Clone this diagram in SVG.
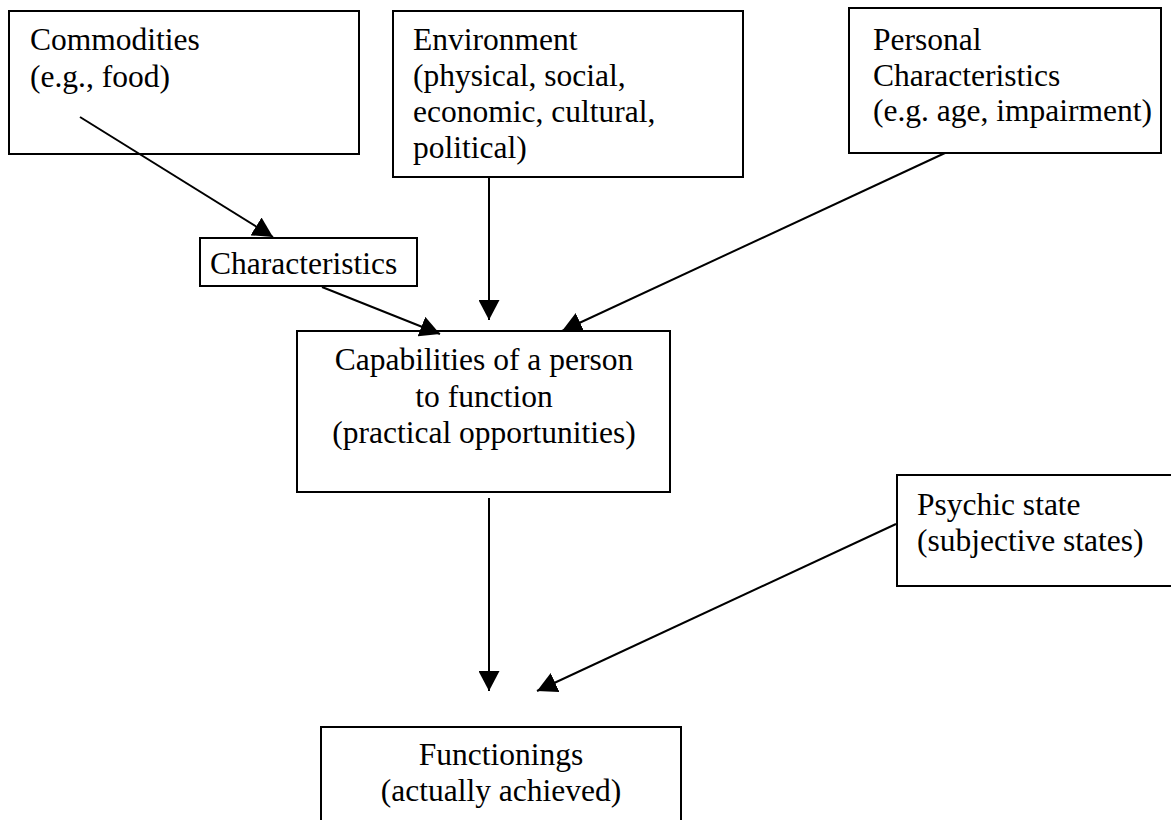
<svg xmlns="http://www.w3.org/2000/svg" width="1171" height="820" viewBox="0 0 1171 820">
  <style>
    .box { fill: #ffffff; stroke: #000000; stroke-width: 2; }
    text { font-family: 'Liberation Serif', 'Tinos', 'Times New Roman', 'DejaVu Serif', serif; font-size: 31.5px; fill: #000000; }
    .c { text-anchor: middle; }
    .edge { stroke: #000000; stroke-width: 2; fill: none; marker-end: url(#arrow); }
  </style>
  <defs>
    <marker id="arrow" viewBox="0 0 20 21" refX="20" refY="10.5" markerWidth="20" markerHeight="21" markerUnits="userSpaceOnUse" orient="auto">
      <path d="M0,0 L20,10.5 L0,21 z" fill="#000000"/>
    </marker>
  </defs>
  <rect width="1171" height="820" fill="#ffffff"/>

  <g id="commodities" font-family="Liberation Serif, serif">
    <rect class="box" x="9" y="11" width="350" height="143"/>
    <text x="30" y="50">Commodities</text>
    <text x="30" y="87">(e.g., food)</text>
  </g>

  <g id="environment" font-family="Liberation Serif, serif">
    <rect class="box" x="393" y="11" width="350" height="166"/>
    <text x="413" y="50">Environment</text>
    <text x="413" y="86">(physical, social,</text>
    <text x="413" y="122">economic, cultural,</text>
    <text x="413" y="157.5">political)</text>
  </g>

  <g id="personal" font-family="Liberation Serif, serif">
    <rect class="box" x="849" y="8" width="312" height="145"/>
    <text x="873" y="50">Personal</text>
    <text x="873" y="86">Characteristics</text>
    <text x="873" y="121">(e.g. age, impairment)</text>
  </g>

  <g id="characteristics" font-family="Liberation Serif, serif">
    <rect class="box" x="200" y="238" width="217" height="48"/>
    <text x="210" y="274">Characteristics</text>
  </g>

  <g id="capabilities" font-family="Liberation Serif, serif">
    <rect class="box" x="297" y="331" width="373" height="161"/>
    <text class="c" x="484" y="370">Capabilities of a person</text>
    <text class="c" x="484" y="406.5">to function</text>
    <text class="c" x="484" y="443">(practical opportunities)</text>
  </g>

  <g id="psychic" font-family="Liberation Serif, serif">
    <rect class="box" x="897" y="475" width="290" height="111"/>
    <text x="917" y="515">Psychic state</text>
    <text x="917" y="551">(subjective states)</text>
  </g>

  <g id="functionings" font-family="Liberation Serif, serif">
    <rect class="box" x="321" y="727" width="360" height="110"/>
    <text class="c" x="501" y="765">Functionings</text>
    <text class="c" x="501" y="801">(actually achieved)</text>
  </g>

  <g id="connectors">
    <line class="edge" x1="80" y1="117" x2="273" y2="237"/>
    <line class="edge" x1="322" y1="287" x2="440" y2="334"/>
    <line class="edge" x1="489" y1="177" x2="489" y2="320"/>
    <line class="edge" x1="945" y1="153" x2="562" y2="331"/>
    <line class="edge" x1="489" y1="498" x2="489" y2="691"/>
    <line class="edge" x1="896" y1="524" x2="537" y2="691"/>
  </g>
</svg>
